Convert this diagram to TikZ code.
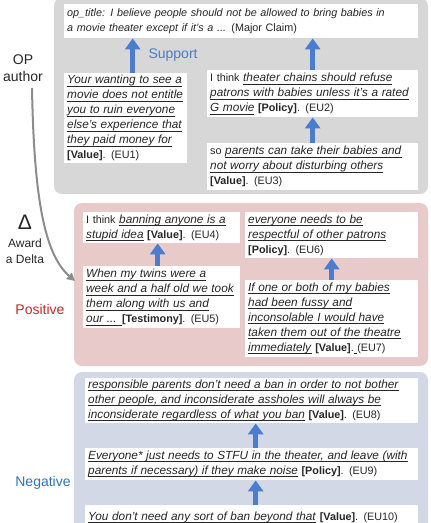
\documentclass[tikz,border=0pt]{standalone}
\usepackage{fontspec}
\setmainfont{Liberation Sans}
\usepackage{tikz}
\usetikzlibrary{calc,positioning,arrows.meta}
\definecolor{panelgray}{HTML}{D7D7D7}
\definecolor{panelpink}{HTML}{E8CACA}
\definecolor{panelblue}{HTML}{D2D8E6}
\definecolor{supblue}{HTML}{4A7CD0}
\definecolor{posred}{HTML}{C62828}
\definecolor{negblue}{HTML}{2E75B6}
\definecolor{ink}{HTML}{262626}
\newcommand{\Txt}{\fontsize{10.8}{15}\selectfont}
\newsavebox{\emubox}
\newcommand{\emu}[1]{\leavevmode\sbox{\emubox}{\fontsize{11.8}{15}\selectfont\textit{#1}}%
  \rlap{\rule[-2.2pt]{\wd\emubox}{0.5pt}}\usebox{\emubox}}

\begin{document}
\begin{tikzpicture}[x=1pt,y=-1pt,
    eubox/.style={fill=white, anchor=north west, inner xsep=3pt, inner ysep=1pt,
                  align=left, font=\Txt, text=ink},
    suparrow/.style={line width=4.5pt, draw=supblue, -{Triangle[width=15pt,length=11pt]}},
    deltaline/.style={line width=2pt, draw=black!45, -{Triangle[width=8pt,length=8pt]}},
    sidelabel/.style={align=center, font=\fontsize{14}{17}\selectfont}]
  \clip (0,0) rectangle (431,523);
  % three panels
  \fill[panelgray, rounded corners=8pt] (54,-2) rectangle (428,194);
  \fill[panelpink, rounded corners=8pt] (74,203) rectangle (428,366);
  \fill[panelblue, rounded corners=8pt] (74,372) rectangle (428,540);

  % OP panel
  \node[eubox, text width=348pt, minimum height=34pt] (op) at (64,4)
    {\textit{op\_title: I believe people should not be allowed to bring babies in}\\
     \textit{a movie theater except if it's a ...} (Major Claim)};
  \node[eubox, text width=117pt, minimum height=90pt] (eu1) at (64,73)
    {\emu{Your wanting to see a}\\\emu{movie does not entitle}\\\emu{you to ruin everyone}\\
     \emu{else's experience that}\\\emu{they paid money for}\\\textbf{[Value]}. (EU1)};
  \node[eubox, text width=205pt, minimum height=47pt] (eu2) at (207,70)
    {I think \emu{theater chains should refuse}\\\emu{patrons with babies unless it's a rated}\\
     \emu{G movie} \textbf{[Policy]}. (EU2)};
  \node[eubox, text width=205pt, minimum height=47pt] (eu3) at (207,143)
    {so \emu{parents can take their babies and}\\\emu{not worry about disturbing others}\\
     \textbf{[Value]}. (EU3)};
  \draw[suparrow] ($(eu1.north)+(7,0)$) -- ($(eu1.north |- op.south)+(7,0)$);
  \draw[suparrow] (eu2.north) -- (eu2.north |- op.south);
  \draw[suparrow] (eu3.north) -- (eu2.south);
  \node[anchor=west, text=supblue, font=\fontsize{14}{17}\selectfont] (support) at (145,55) {Support};

  % positive panel
  \node[eubox, text width=151pt, minimum height=31pt] (eu4) at (83,212)
    {I think \emu{banning anyone is a}\\\emu{stupid idea} \textbf{[Value]}. (EU4)};
  \node[eubox, text width=151pt, minimum height=62pt] (eu5) at (83,266)
    {\emu{When my twins were a}\\\emu{week and a half old we took}\\\emu{them along with us and}\\
     \emu{our ... }\textbf{[Testimony]}. (EU5)};
  \node[eubox, text width=167pt, minimum height=46pt] (eu6) at (245,212)
    {\emu{everyone needs to be}\\\emu{respectful of other patrons}\\\textbf{[Policy]}. (EU6)};
  \node[eubox, text width=167pt, minimum height=77pt] (eu7) at (245,280)
    {\emu{If one or both of my babies}\\\emu{had been fussy and}\\\emu{inconsolable I would have}\\
     \emu{taken them out of the theatre}\\\emu{immediately} \textbf{[Value]}.\emu{\ }(EU7)};
  \draw[suparrow] ($(eu5.north)+(-4,0)$) -- ($(eu5.north |- eu4.south)+(-4,0)$);
  \draw[suparrow] (eu7.north) -- (eu6.south);

  % negative panel
  \node[eubox, text width=327pt, minimum height=45pt] (eu8) at (85,378)
    {\emu{responsible parents don't need a ban in order to not bother}\\
     \emu{other people, and inconsiderate assholes will always be}\\
     \emu{inconsiderate regardless of what you ban} \textbf{[Value]}. (EU8)};
  \node[eubox, text width=327pt, minimum height=32pt] (eu9) at (85,448)
    {\emu{Everyone* just needs to STFU in the theater, and leave (with}\\
     \emu{parents if necessary) if they make noise} \textbf{[Policy]}. (EU9)};
  \node[eubox, text width=327pt, minimum height=25pt] (eu10) at (85,505)
    {\emu{You don't need any sort of ban beyond that} \textbf{[Value]}. (EU10)};
  \draw[suparrow] ($(eu9.north)+(4,0)$) -- ($(eu9.north |- eu8.south)+(4,0)$);
  \draw[suparrow] ($(eu10.north)+(4,0)$) -- ($(eu10.north |- eu9.south)+(4,0)$);

  % side labels
  \node[sidelabel, text=ink] (opauthor) at (23,68) {OP\\author};
  \node[font=\fontsize{21}{21}\selectfont, text=ink] (delta) at (25,222) {Δ};
  \node[align=center, font=\fontsize{12}{16}\selectfont, text=ink] (award) at (25,251) {Award\\a Delta};
  \node[sidelabel, text=posred] (positive) at (40,309) {Positive};
  \node[sidelabel, text=negblue] (negative) at (43,483) {Negative};
  \coordinate (deltaTip) at (75,281);
  \draw[deltaline] ([xshift=9pt,yshift=-3pt]opauthor.south) .. controls (34,200) and (45,255) .. (deltaTip);
\end{tikzpicture}
\end{document}
